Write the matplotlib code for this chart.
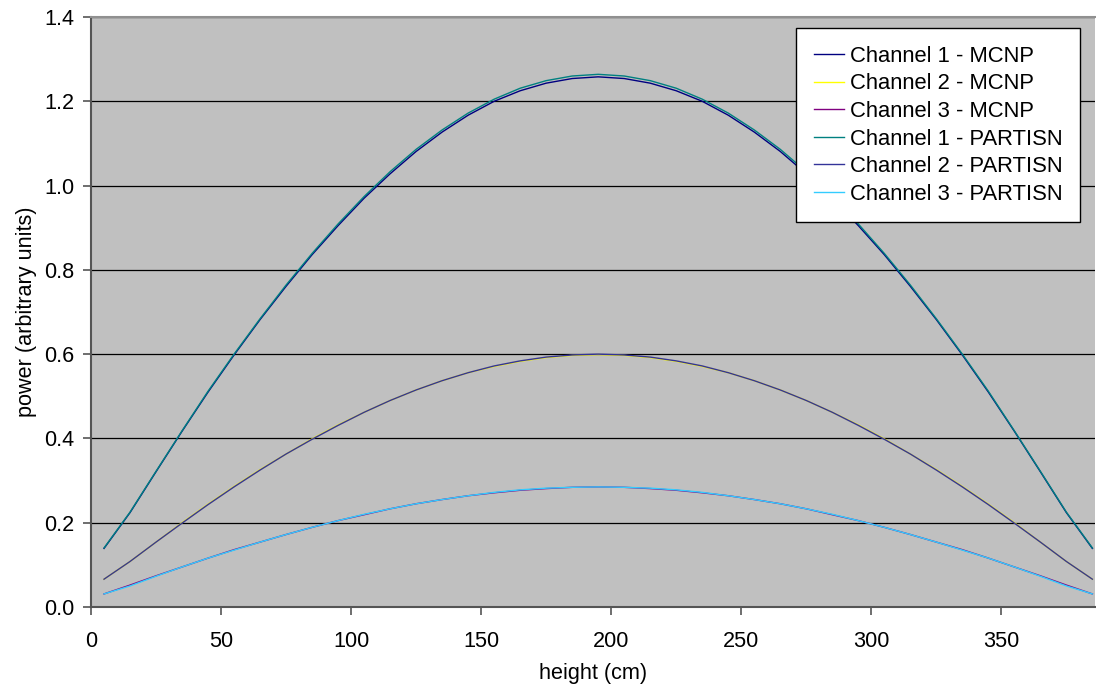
import matplotlib
matplotlib.use('Agg')
import matplotlib.pyplot as plt
from matplotlib.ticker import FormatStrFormatter

plt.rcParams['font.family'] = ['Liberation Sans', 'DejaVu Sans']

# heights (cm) of the axial mesh points
height = [5, 15, 25, 35, 45, 55, 65, 75, 85, 95, 105, 115, 125, 135, 145, 155, 165, 175, 185, 195,
          205, 215, 225, 235, 245, 255, 265, 275, 285, 295, 305, 315, 325, 335, 345, 355, 365, 375, 385]

ch1_mcnp = [0.139, 0.224, 0.321, 0.417, 0.510, 0.598, 0.682, 0.761, 0.836, 0.905, 0.970, 1.028, 1.081,
            1.127, 1.167, 1.200, 1.225, 1.243, 1.254, 1.258, 1.254, 1.243, 1.225, 1.200, 1.167, 1.127,
            1.081, 1.028, 0.970, 0.905, 0.836, 0.761, 0.682, 0.598, 0.510, 0.417, 0.321, 0.224, 0.139]
ch2_mcnp = [0.066, 0.108, 0.154, 0.200, 0.244, 0.286, 0.326, 0.363, 0.399, 0.432, 0.462, 0.490, 0.515,
            0.537, 0.556, 0.571, 0.583, 0.592, 0.597, 0.599, 0.597, 0.592, 0.583, 0.571, 0.556, 0.537,
            0.515, 0.490, 0.462, 0.432, 0.399, 0.363, 0.326, 0.286, 0.244, 0.200, 0.154, 0.108, 0.066]
ch3_mcnp = [0.031, 0.052, 0.074, 0.095, 0.116, 0.136, 0.154, 0.172, 0.189, 0.205, 0.219, 0.233, 0.245,
            0.255, 0.264, 0.271, 0.277, 0.281, 0.284, 0.285, 0.284, 0.281, 0.277, 0.271, 0.264, 0.255,
            0.245, 0.233, 0.219, 0.205, 0.189, 0.172, 0.154, 0.136, 0.116, 0.095, 0.074, 0.052, 0.031]
ch1_partisn = [0.140, 0.225, 0.322, 0.418, 0.512, 0.600, 0.684, 0.764, 0.839, 0.909, 0.974, 1.033, 1.086,
               1.132, 1.172, 1.205, 1.231, 1.249, 1.260, 1.264, 1.260, 1.249, 1.231, 1.205, 1.172, 1.132,
               1.086, 1.033, 0.974, 0.909, 0.839, 0.764, 0.684, 0.600, 0.512, 0.418, 0.322, 0.225, 0.140]
ch2_partisn = [0.066, 0.108, 0.154, 0.199, 0.243, 0.285, 0.325, 0.363, 0.398, 0.431, 0.462, 0.490, 0.515,
               0.537, 0.556, 0.572, 0.584, 0.593, 0.598, 0.600, 0.598, 0.593, 0.584, 0.572, 0.556, 0.537,
               0.515, 0.490, 0.462, 0.431, 0.398, 0.363, 0.325, 0.285, 0.243, 0.199, 0.154, 0.108, 0.066]
ch3_partisn = [0.031, 0.050, 0.073, 0.095, 0.116, 0.135, 0.154, 0.172, 0.189, 0.205, 0.220, 0.233, 0.245,
               0.255, 0.264, 0.272, 0.278, 0.282, 0.284, 0.285, 0.284, 0.282, 0.278, 0.272, 0.264, 0.255,
               0.245, 0.233, 0.220, 0.205, 0.189, 0.172, 0.154, 0.135, 0.116, 0.095, 0.073, 0.050, 0.031]

series = [
    ('Channel 1 - MCNP', ch1_mcnp, '#000080'),
    ('Channel 2 - MCNP', ch2_mcnp, '#FFFF00'),
    ('Channel 3 - MCNP', ch3_mcnp, '#800080'),
    ('Channel 1 - PARTISN', ch1_partisn, '#008080'),
    ('Channel 2 - PARTISN', ch2_partisn, '#333399'),
    ('Channel 3 - PARTISN', ch3_partisn, '#33CCFF'),
]

fig = plt.figure(figsize=(10.96, 6.91), dpi=100)
ax = fig.add_axes([91 / 1096, 84 / 691, 1004 / 1096, 590 / 691])
ax.set_facecolor('#C0C0C0')

for label, vals, col in series:
    ax.plot(height, vals, color=col, lw=1.0, label=label)

ax.set_xlim(0, 386)
ax.set_ylim(0, 1.4)
ax.set_xticks([0, 50, 100, 150, 200, 250, 300, 350])
ax.set_yticks([0, 0.2, 0.4, 0.6, 0.8, 1.0, 1.2, 1.4])
ax.yaxis.set_major_formatter(FormatStrFormatter('%.1f'))
ax.yaxis.grid(True, color='black', lw=0.9)
ax.set_axisbelow(True)

ax.tick_params(axis='both', direction='out', length=6, width=1.2, color='#555555',
               labelsize=15.6)
ax.tick_params(axis='x', pad=11)
ax.tick_params(axis='y', pad=6)
ax.spines['right'].set_visible(False)
ax.spines['top'].set_color('#909090')
ax.spines['top'].set_linewidth(1.5)
for s in ['left', 'bottom']:
    ax.spines[s].set_color('#555555')
    ax.spines[s].set_linewidth(1.5)

ax.set_xlabel('height (cm)', fontsize=15.6, labelpad=8)
ax.set_ylabel('power (arbitrary units)', fontsize=15.6, labelpad=5)

leg = ax.legend(loc='upper right', bbox_to_anchor=(0.985, 0.981), borderaxespad=0,
                fontsize=15.8, frameon=True, fancybox=False, framealpha=1,
                handlelength=1.4, handletextpad=0.25, labelspacing=0.3, borderpad=0.8)
leg.get_frame().set_edgecolor('black')
leg.get_frame().set_linewidth(1.0)

fig.savefig('out.png', dpi=100)
